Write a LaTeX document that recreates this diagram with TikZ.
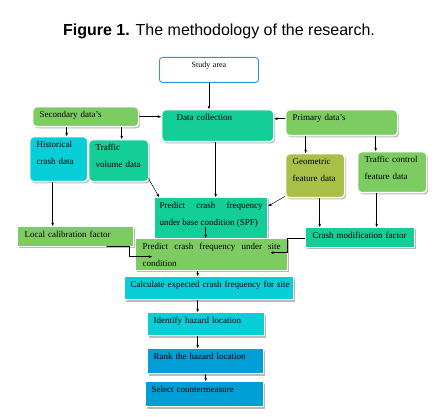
\documentclass[tikz,border=0pt]{standalone}
\usepackage{fontspec}
\setmainfont{Liberation Serif}
\newfontfamily\titlefont{Liberation Sans}
\usetikzlibrary{shadows,arrows.meta}

\definecolor{cgreen}{RGB}{125,204,98}
\definecolor{cteal}{RGB}{20,206,152}
\definecolor{ccyan}{RGB}{8,206,216}
\definecolor{colive}{RGB}{168,192,72}
\definecolor{cblue}{RGB}{0,158,214}
\definecolor{cstudy}{RGB}{36,150,230}

\tikzset{
  box/.style={draw=white,line width=1.4pt,anchor=north west,inner xsep=7pt,inner ysep=0pt,
    text height=10.5pt,align=left,font=\fontsize{9}{17.5}\selectfont,
    drop shadow={shadow xshift=1.5pt,shadow yshift=-1.8pt,fill=black!45,opacity=0.6}},
  rbox/.style={box,rounded corners=4pt},
  bsize/.style n args={2}{text width=#1,text depth=#2},
  arr/.style={-{Stealth[length=3.4pt,width=2.8pt]},line width=0.45pt}
}

\begin{document}
\begin{tikzpicture}[x=1pt,y=-1pt,line cap=round,line join=round]
  \useasboundingbox (0,0) rectangle (437,417);
  \fill[white] (0,0) rectangle (437,417);
  \node[anchor=base,font=\titlefont\fontsize{16}{18}\selectfont] (title) at (219,36)
    {\textbf{Figure 1.} The methodology of the research.};

  % upper boxes
  \node[draw=cstudy,fill=white,line width=0.9pt,rounded corners=3pt,anchor=north west,
    inner sep=0pt,text width=99pt,align=center,text height=10.5pt,text depth=14.5pt,
    font=\fontsize{8}{10}\selectfont] (study) at (159,57) {Study area};
  \node[rbox,fill=cgreen,bsize={92pt}{9.5pt}] (sec) at (32,106) {Secondary data’s};
  \node[rbox,fill=cteal,bsize={98pt}{21.5pt}] (dc) at (161,109) {\hspace*{8pt}Data collection};
  \node[rbox,fill=cgreen,bsize={98pt}{15.5pt}] (prim) at (285,109) {Primary data’s};
  \node[rbox,fill=ccyan,bsize={44pt}{34.5pt}] (hist) at (29,136) {Historical\\crash data};
  \node[rbox,fill=cteal,bsize={46pt}{31.5pt}] (tvol) at (88,139) {Traffic\\volume data};
  \node[rbox,fill=colive,bsize={45pt}{33.5pt}] (geo) at (285,153) {Geometric\\feature data};
  \node[rbox,fill=cgreen,bsize={55pt}{30.5pt}] (tcf) at (357,151) {Traffic control\\feature data};

  % middle boxes
  \node[box,fill=cteal,inner xsep=5pt,align=justify,bsize={103pt}{42.5pt}] (spf) at (154,197)
    {Predict crash frequency\linebreak under base condition (SPF)};
  \node[box,fill=cgreen,bsize={102pt}{9.5pt}] (lcf) at (17,226) {Local calibration factor};
  \node[box,fill=cteal,bsize={95pt}{9.5pt}] (cmf) at (305,227) {Crash modification factor};
  \node[box,fill=cgreen,align=justify,bsize={138pt}{21.5pt}] (site) at (135,238)
    {Predict crash frequency under site\linebreak condition};

  % lower boxes
  \node[box,fill=ccyan,inner xsep=6pt,bsize={157pt}{12.5pt}] (calc) at (124,276)
    {\mbox{Calculate expected crash frequency for site}};
  \node[box,fill=ccyan,inner xsep=6pt,bsize={105pt}{12.5pt}] (ident) at (147,312) {Identify hazard location};
  \node[box,fill=cblue,inner xsep=6pt,bsize={104pt}{14.5pt}] (rank) at (147,348) {Rank the hazard location};
  \node[box,fill=cblue,inner xsep=6pt,bsize={106pt}{14.5pt}] (sel) at (145,381) {Select countermeasure};

  % connectors
  \draw[arr] (study.south) -- (study.south |- dc.north);
  \draw[arr] (sec.east) -- (sec.east -| dc.west);
  \draw[arr] ([yshift=4pt]prim.west) -- ([yshift=4pt]prim.west -| dc.east);
  \draw[arr] ([xshift=-19pt]sec.south) -- ([xshift=-19pt]sec.south |- hist.north);
  \draw[arr] ([xshift=36pt]sec.south) -- ([xshift=36pt]sec.south |- tvol.north);
  \draw[arr] ([xshift=-36pt]prim.south) -- ([xshift=-36pt]prim.south |- geo.north);
  \draw[arr] ([xshift=34pt]prim.south) -- ([xshift=34pt]prim.south |- tcf.north);
  \draw[arr] ([xshift=-2pt]dc.south) -- ([xshift=-2pt]dc.south |- spf.north);
  \draw[arr] ([xshift=-1pt,yshift=4pt]tvol.south east) -- ([xshift=5pt]spf.north west);
  \draw[arr] ([yshift=2pt]geo.south west) -- ([yshift=-9pt]spf.north east);
  \draw[arr] ([xshift=-6pt]hist.south) -- ([xshift=-6pt]hist.south |- lcf.north);
  \draw[arr] ([xshift=4.5pt]geo.south) -- ([xshift=4.5pt]geo.south |- cmf.north);
  \draw[arr,line width=0.8pt] ([xshift=-15.5pt]tcf.south) -- ([xshift=-15.5pt]tcf.south |- cmf.north);
  \draw[arr] ([xshift=-5.5pt,yshift=-30pt]spf.north) -- ([xshift=-5.5pt]spf.north |- site.north);
  \draw[arr] ([xshift=31pt,yshift=1pt]lcf.south) -- ++(23,0) |- ([xshift=17pt,yshift=-2pt]site.west);
  \draw[arr] ([yshift=-1pt]cmf.west) -- ++(-18,0) |- ([xshift=-18pt,yshift=2pt]site.east);
  \draw[arr] ([xshift=-14pt]site.south) -- ([xshift=-14pt]site.south |- calc.north);
  \draw[arr] ([xshift=-11.5pt]calc.south) -- ([xshift=-11.5pt]calc.south |- ident.north);
  \draw[arr] ([xshift=-8.5pt]ident.south) -- ([xshift=-8.5pt]ident.south |- rank.north);
  \draw[arr] (rank.south) -- (rank.south |- sel.north);
\end{tikzpicture}
\end{document}
